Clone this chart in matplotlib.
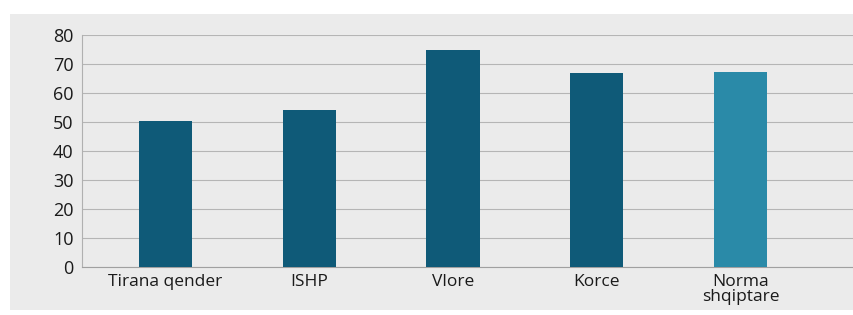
import matplotlib
matplotlib.use("Agg")
import matplotlib.pyplot as plt
from matplotlib.patches import Rectangle

categories = ["Tirana qender", "ISHP", "Vlore", "Korce", "Norma\nshqiptare"]
values = [50.3, 54.0, 74.8, 66.8, 67.2]
colors = ["#0f5a78", "#0f5a78", "#0f5a78", "#0f5a78", "#2a8aa8"]
yticks = [0, 10, 20, 30, 40, 50, 60, 70, 80]

fig = plt.figure(figsize=(8.54, 3.15), dpi=100)
fig.patch.set_facecolor("white")
# grey panel behind chart
fig.add_artist(Rectangle((10/854, 5/315), 1 - 10/854, 1 - 19/315,
                         transform=fig.transFigure, facecolor="#ebebeb",
                         edgecolor="none", zorder=0))

ax = fig.add_axes([82/854, 1 - 267/315, (854 - 82)/854, (267 - 35)/315])
ax.set_facecolor("none")
x = list(range(len(categories)))
ax.bar(x, values, width=0.37, color=colors, zorder=3)
ax.set_xlim(-0.58, 4.79)
ax.set_ylim(0, 80)
ax.set_yticks(yticks)
ax.set_yticklabels([str(v) for v in yticks], fontsize=13, family="Open Sans", color="#1a1a1a")
ax.set_xticks(x)
ax.set_xticklabels(categories, fontsize=12.5, family="Open Sans", color="#1a1a1a", linespacing=0.95)
ax.tick_params(length=0, pad=6)
ax.tick_params(axis="x", pad=5)
ax.grid(axis="y", color="#b5b5b5", linewidth=0.8, zorder=1)
for s in ["top", "right"]:
    ax.spines[s].set_visible(False)
ax.spines["left"].set_color("#b0b0b0")
ax.spines["bottom"].set_color("#a0a0a0")

fig.savefig("out.png", dpi=100)
